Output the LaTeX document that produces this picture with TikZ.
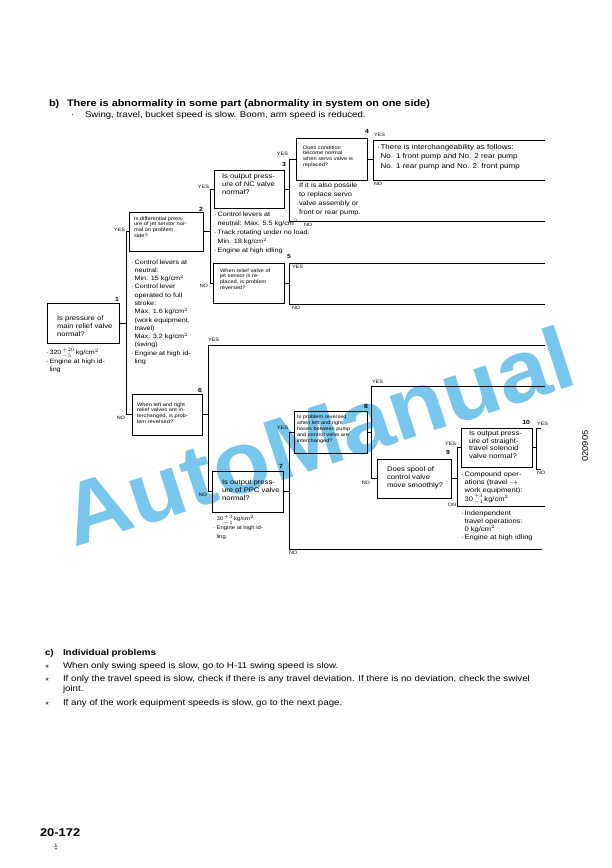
\documentclass[tikz,border=0pt]{standalone}
\usepackage{fontspec}
\setmainfont{Liberation Sans}[FakeStretch=1.15]
\newfontfamily\wmfont{Liberation Sans}[FakeStretch=1.06]
\definecolor{wm}{RGB}{120,198,236}
\newcommand{\bul}{\makebox[3.6bp][l]{\textperiodcentered}}
\newcommand{\ind}{\hspace*{3.6bp}}
\newcommand{\tol}[2]{\,$^{\scriptscriptstyle #1}_{\scriptscriptstyle #2}$\,}
\begin{document}
\begin{tikzpicture}[x=1bp,y=-1bp,
  every node/.style={inner sep=0pt, outer sep=0pt},
  ln/.style={line width=0.8pt},
  qbox/.style={draw, line width=0.9pt},
  qtxt/.style={anchor=north west, align=left, font=\fontsize{6.7}{8.3}\selectfont},
  stxt/.style={anchor=north west, align=left, font=\fontsize{5}{5.75}\selectfont},
  note/.style={align=left, anchor=north west, font=\fontsize{6.3}{8.3}\selectfont},
  yn/.style={font=\fontsize{4.8}{5}\selectfont},
  num/.style={font=\fontsize{6}{6}\selectfont\bfseries},
]
\useasboundingbox (0,0) rectangle (612,868);
\fill[white] (0,0) rectangle (612,868);

% watermark
\node[rotate=18, text=wm, font=\wmfont\fontsize{88}{88}\selectfont\bfseries] (wmk) at (318,436) {AutoManual};

% headings
\node[anchor=base west, font=\fontsize{9.5}{11}\selectfont\bfseries] (hb) at (49,106) {b)};
\node[anchor=base west, font=\fontsize{9.5}{11}\selectfont\bfseries] (ht) at (67,106) {There is abnormality in some part (abnormality in system on one side)};
\node[anchor=base west, font=\fontsize{8.4}{10}\selectfont] (hd) at (71,117) {\textperiodcentered};
\node[anchor=base west, font=\fontsize{8.4}{10}\selectfont] (hs) at (85,117) {Swing, travel, bucket speed is slow. Boom, arm speed is reduced.};

% bars
\coordinate (bar1) at (126,0);
\coordinate (bar2) at (210,0);
\coordinate (bar3) at (289,0);
\coordinate (bar4) at (373,0);
\coordinate (bar5) at (289,0);
\coordinate (bar6) at (208,0);
\coordinate (bar7) at (289,0);
\coordinate (bar8) at (371,0);
\coordinate (bar9) at (457,0);
\coordinate (bar10) at (536,0);

% boxes
\node[qbox, minimum width=72bp, minimum height=40bp] (b1) at (83,323) {};
\node[qbox, minimum width=74bp, minimum height=39bp] (b2) at (166,231.5) {};
\node[qbox, minimum width=70bp, minimum height=38bp] (b3) at (249,189) {};
\node[qbox, minimum width=71bp, minimum height=42bp] (b4) at (331.5,159) {};
\node[qbox, minimum width=71bp, minimum height=40bp] (b5) at (248.5,283) {};
\node[qbox, minimum width=70bp, minimum height=41bp] (b6) at (167,414.5) {};
\node[qbox, minimum width=71bp, minimum height=41bp] (b7) at (247.5,491.5) {};
\node[qbox, minimum width=73bp, minimum height=42bp] (b8) at (330.5,432) {};
\node[qbox, minimum width=74bp, minimum height=39bp] (b9) at (414,478.5) {};
\node[qbox, minimum width=71bp, minimum height=39bp] (b10) at (496.5,447.5) {};

% box texts
\node[qtxt] (b1t) at ([shift={(10,12.6)}]b1.north west) {Is pressure of\\main relief valve\\normal?};
\node[stxt] (b2t) at ([shift={(5,4.4)}]b2.north west) {Is differential press-\\ure of jet sensor nor-\\mal on problem\\side?};
\node[qtxt] (b3t) at ([shift={(8,3.5)}]b3.north west) {Is output press-\\ure of NC valve\\normal?};
\node[stxt] (b4t) at ([shift={(7,7.4)}]b4.north west) {Does condition\\become normal\\when servo valve is\\replaced?};
\node[stxt] (b5t) at ([shift={(7,5.4)}]b5.north west) {When relief valve of\\jet sensor is re-\\placed, is problem\\reversed?};
\node[stxt] (b6t) at ([shift={(5,8.4)}]b6.north west) {When left and right\\relief valves are in-\\terchanged, is prob-\\lem reversed?};
\node[qtxt] (b7t) at ([shift={(10,8.6)}]b7.north west) {Is output press-\\ure of PPC valve\\normal?};
\node[stxt, font=\fontsize{4.9}{5.9}\selectfont] (b8t) at ([shift={(3,4.2)}]b8.north west) {Is problem reversed\\when left and right\\hoses between pump\\and control valve are\\interchanged?};
\node[qtxt] (b9t) at ([shift={(10,7.6)}]b9.north west) {Does spool of\\control valve\\move smoothly?};
\node[qtxt, font=\fontsize{6.7}{7.8}\selectfont] (b10t) at ([shift={(8,2.8)}]b10.north west) {Is output press-\\ure of straight-\\travel solenoid\\valve normal?};

% numbers
\node[num, anchor=south east] (n1) at (119,301) {1};
\node[num, anchor=south east] (n2) at (203,211) {2};
\node[num, anchor=south east] (n3) at (286,167) {3};
\node[num, anchor=south east] (n4) at (369,133) {4};
\node[num, anchor=south east] (n5) at (291,259) {5};
\node[num, anchor=south east] (n6) at (202,393) {6};
\node[num, anchor=south east] (n7) at (283,468) {7};
\node[num, anchor=south east] (n8) at (368,409) {8};
\node[num, anchor=south east] (n9) at (450,455) {9};
\node[num, anchor=south east] (n10) at (530,425) {10};

% end coordinates
\coordinate (e4t) at (545,140);
\coordinate (e4b) at (545,180);
\coordinate (e3b) at (545,221);
\coordinate (e5t) at (545,263);
\coordinate (e5b) at (545,304);
\coordinate (e6t) at (545,345);
\coordinate (e8t) at (545,386);
\coordinate (e9b) at (545,506);
\coordinate (e7b) at (542,549);
\coordinate (e10t) at (541,428);
\coordinate (e10b) at (541,469);

% connectors
\draw[ln] (b1.east) -- (b1.east -| bar1);
\draw[ln] (b2.west) -- (b2.west -| bar1) -- (b6.west -| bar1) -- (b6.west);
\draw[ln] (b2.east) -- (b2.east -| bar2);
\draw[ln] (b3.west) -- (b3.west -| bar2) -- (b5.west -| bar2) -- (b5.west);
\draw[ln] (b3.east) -- (b3.east -| bar3);
\draw[ln] (b4.west) -- (b4.west -| bar3) -- (e3b -| bar3) -- (e3b);
\draw[ln] (b4.east) -- (b4.east -| bar4);
\draw[ln] (e4t) -- (e4t -| bar4) -- (e4b -| bar4) -- (e4b);
\draw[ln] (b5.east) -- (b5.east -| bar5);
\draw[ln] (e5t) -- (e5t -| bar5) -- (e5b -| bar5) -- (e5b);
\draw[ln] (b6.east) -- (b6.east -| bar6);
\draw[ln] (e6t) -- (e6t -| bar6) -- (b7.west -| bar6) -- (b7.west);
\draw[ln] (b7.east) -- (b7.east -| bar7);
\draw[ln] (b8.west) -- (b8.west -| bar7) -- (e7b -| bar7) -- (e7b);
\draw[ln] (b8.east) -- (b8.east -| bar8);
\draw[ln] (e8t) -- (e8t -| bar8) -- (b9.west -| bar8) -- (b9.west);
\draw[ln] (b9.east) -- (b9.east -| bar9);
\draw[ln] (b10.west) -- (b10.west -| bar9) -- (e9b -| bar9) -- (e9b);
\draw[ln] (b10.east) -- (b10.east -| bar10);
\draw[ln] (e10t) -- (e10t -| bar10) -- (e10b -| bar10) -- (e10b);

% yes / no labels
\node[yn, anchor=east] (l1y) at (125,229.5) {YES};
\node[yn, anchor=east] (l1n) at (125,418) {NO};
\node[yn, anchor=east] (l2y) at (209,186.5) {YES};
\node[yn, anchor=east] (l2n) at (208,286) {NO};
\node[yn, anchor=east] (l3y) at (288,154) {YES};
\node[yn, anchor=west] (l3n) at (304,224.5) {NO};
\node[yn, anchor=south west] (l4y) at (374,137) {YES};
\node[yn, anchor=north west] (l4n) at (374,182.5) {NO};
\node[yn, anchor=north west] (l5y) at (292,265) {YES};
\node[yn, anchor=north west] (l5n) at (292,306.5) {NO};
\node[yn, anchor=south west] (l6y) at (208,342) {YES};
\node[yn, anchor=east] (l6n) at (207,495) {NO};
\node[yn, anchor=east] (l7y) at (288,427.5) {YES};
\node[yn, anchor=north west] (l7n) at (289,551) {NO};
\node[yn, anchor=south west] (l8y) at (372,383.5) {YES};
\node[yn, anchor=east] (l8n) at (370,483) {NO};
\node[yn, anchor=east] (l9y) at (456,443.5) {YES};
\node[yn, anchor=east] (l9n) at (456,505) {ON};
\node[yn, anchor=south west] (l10y) at (537,425.5) {YES};
\node[yn, anchor=north west] (l10n) at (537,471.5) {NO};

% notes
\node[note, font=\fontsize{6.2}{8.4}\selectfont] (t1) at (46,348.6) {\bul 320\tol{+20}{-5}kg/cm$^2$\\\bul Engine at high id-\\\ind ling};
\node[note] (t2) at (131,259.6) {\bul Control levers at\\\ind neutral:\\\ind Min. 15 kg/cm$^2$\\\bul Control lever\\\ind operated to full\\\ind stroke:\\\ind Max. 1.6 kg/cm$^2$\\\ind (work equipment,\\\ind travel)\\\ind Max. 3.2 kg/cm$^2$\\\ind (swing)\\\bul Engine at high id-\\\ind ling};
\node[note, font=\fontsize{6.3}{9.2}\selectfont] (t3) at (214,211.6) {\bul Control levers at\\\ind neutral: Max. 5.5 kg/cm$^2$\\\bul Track rotating under no load:\\\ind Min. 18 kg/cm$^2$\\\bul Engine at high idling};
\node[note, font=\fontsize{6.5}{9}\selectfont] (t3b) at (299,182.6) {If it is also possile\\to replace servo\\valve assembly or\\front or rear pump.};
\node[note, font=\fontsize{7}{9.5}\selectfont] (t4) at (377,144.4) {\bul There is interchangeability as follows:\\\ind No. 1 front pump and No. 2 rear pump\\\ind No. 1 rear pump and No. 2\ \ front pump};
\node[note, font=\fontsize{5.2}{8.8}\selectfont] (t7) at (213,515) {\bul 30\tol{+3}{-1}kg/cm$^2$\\\bul Engine at high id-\\\ind ling};
\node[note, font=\fontsize{6.6}{8.3}\selectfont] (t10a) at (461,471.5) {\bul Compound oper-\\\ind ations (travel $\rightarrow$\\\ind work equipment):\\\ind 30\tol{+3}{-1}kg/cm$^2$};
\node[note, font=\fontsize{6.6}{8}\selectfont] (t10b) at (461,510.5) {\bul Indenpendent\\\ind travel operations:\\\ind 0 kg/cm$^2$\\\bul Engine at high idling};

% side code
\node[rotate=90, font=\fontsize{8.2}{9}\selectfont] (code) at (585,446) {020905};

% section c
\node[anchor=base west, font=\fontsize{8.6}{10}\selectfont\bfseries] (cc) at (45,655) {c)};
\node[anchor=base west, font=\fontsize{8.6}{10}\selectfont\bfseries] (ct) at (63,655) {Individual problems};
\node[anchor=base west, font=\fontsize{8.5}{10}\selectfont] (s1) at (45,668) {$\star$};
\node[anchor=base west, font=\fontsize{8.5}{10}\selectfont] (c1) at (63,668) {When only swing speed is slow, go to H-11 swing speed is slow.};
\node[anchor=base west, font=\fontsize{8.5}{10}\selectfont] (s2) at (45,681) {$\star$};
\node[anchor=base west, font=\fontsize{8.5}{10}\selectfont] (c2) at (63,681) {If only the travel speed is slow, check if there is any travel deviation. If there is no deviation, check the swivel};
\node[anchor=base west, font=\fontsize{8.5}{10}\selectfont] (c2b) at (63,691.5) {joint.};
\node[anchor=base west, font=\fontsize{8.5}{10}\selectfont] (s3) at (45,705) {$\star$};
\node[anchor=base west, font=\fontsize{8.5}{10}\selectfont] (c3) at (63,705) {If any of the work equipment speeds is slow, go to the next page.};

% page number
\node[anchor=base west, font=\fontsize{11.3}{14}\selectfont\bfseries] (pg) at (40,836) {20-172};
\node[font=\fontsize{5}{5}\selectfont] (rev) at (56,846) {1};
\draw[line width=0.4pt] (rev.south west) arc[start angle=180, end angle=360, radius=1.6bp];
\end{tikzpicture}
\end{document}
